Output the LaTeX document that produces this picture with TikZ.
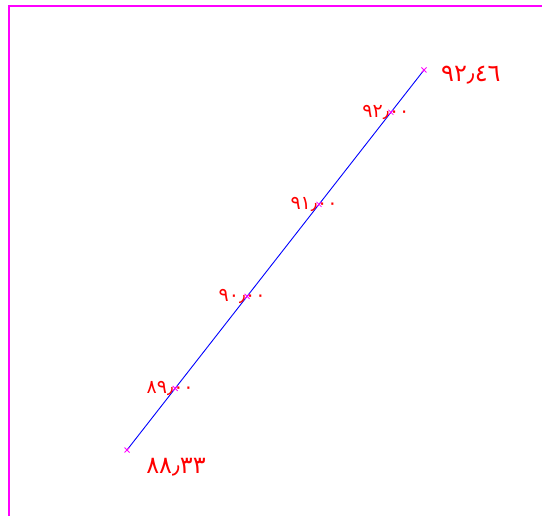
\documentclass[tikz,border=0pt]{standalone}
\usepackage{fontspec}
\newfontfamily\arabicfont[Script=Arabic]{DejaVu Sans}
\usetikzlibrary{calc}
\definecolor{mag}{RGB}{255,0,255}
\definecolor{lblred}{RGB}{255,0,0}
\definecolor{lineblue}{RGB}{0,0,255}
\tikzset{
  frame/.style={draw=mag, line width=1.3pt},
  axisline/.style={draw=lineblue, line width=0.9pt},
  tickmark/.style={draw=mag, line width=0.8pt},
  ticklabel/.style={text=lblred, font=\arabicfont\fontsize{19}{19}\selectfont, inner sep=0pt},
  endlabel/.style={text=lblred, font=\arabicfont\fontsize{24}{24}\selectfont, inner sep=0pt}
}
\newcommand{\xmark}[1]{\draw[tickmark] ($(#1)+(-2.5,-2.5)$) -- ($(#1)+(2.5,2.5)$) ($(#1)+(-2.5,2.5)$) -- ($(#1)+(2.5,-2.5)$);}
\begin{document}
\begin{tikzpicture}[x=1pt,y=-1pt]
\useasboundingbox (0,0) rectangle (542,516);
\coordinate (tl) at (9,6);
\coordinate (tr) at (542,6);
\coordinate (bl) at (9,516);
\draw[frame] (tr) -- (tl) -- (bl);
\coordinate (a) at (127,450);
\coordinate (b) at (424,70);
\draw[axisline] (a) -- (b);
\coordinate (t89) at ($(a)!0.1622!(b)$);
\coordinate (t90) at ($(a)!0.4044!(b)$);
\coordinate (t91) at ($(a)!0.6465!(b)$);
\coordinate (t92) at ($(a)!0.8886!(b)$);
\xmark{a}
\xmark{b}
\xmark{t89}
\xmark{t90}
\xmark{t91}
\xmark{t92}
\node[endlabel, anchor=west] (lb) at ($(b)+(17,5)$) {٩٢٫٤٦};
\node[endlabel] (la) at ($(a)+(49,17)$) {٨٨٫٣٣};
\node[ticklabel] (l89) at ($(t89)+(-5,0)$) {٨٩٫٠٠};
\node[ticklabel] (l90) at ($(t90)+(-5,0)$) {٩٠٫٠٠};
\node[ticklabel] (l91) at ($(t91)+(-5,0)$) {٩١٫٠٠};
\node[ticklabel] (l92) at ($(t92)+(-5,0)$) {٩٢٫٠٠};
\end{tikzpicture}
\end{document}
